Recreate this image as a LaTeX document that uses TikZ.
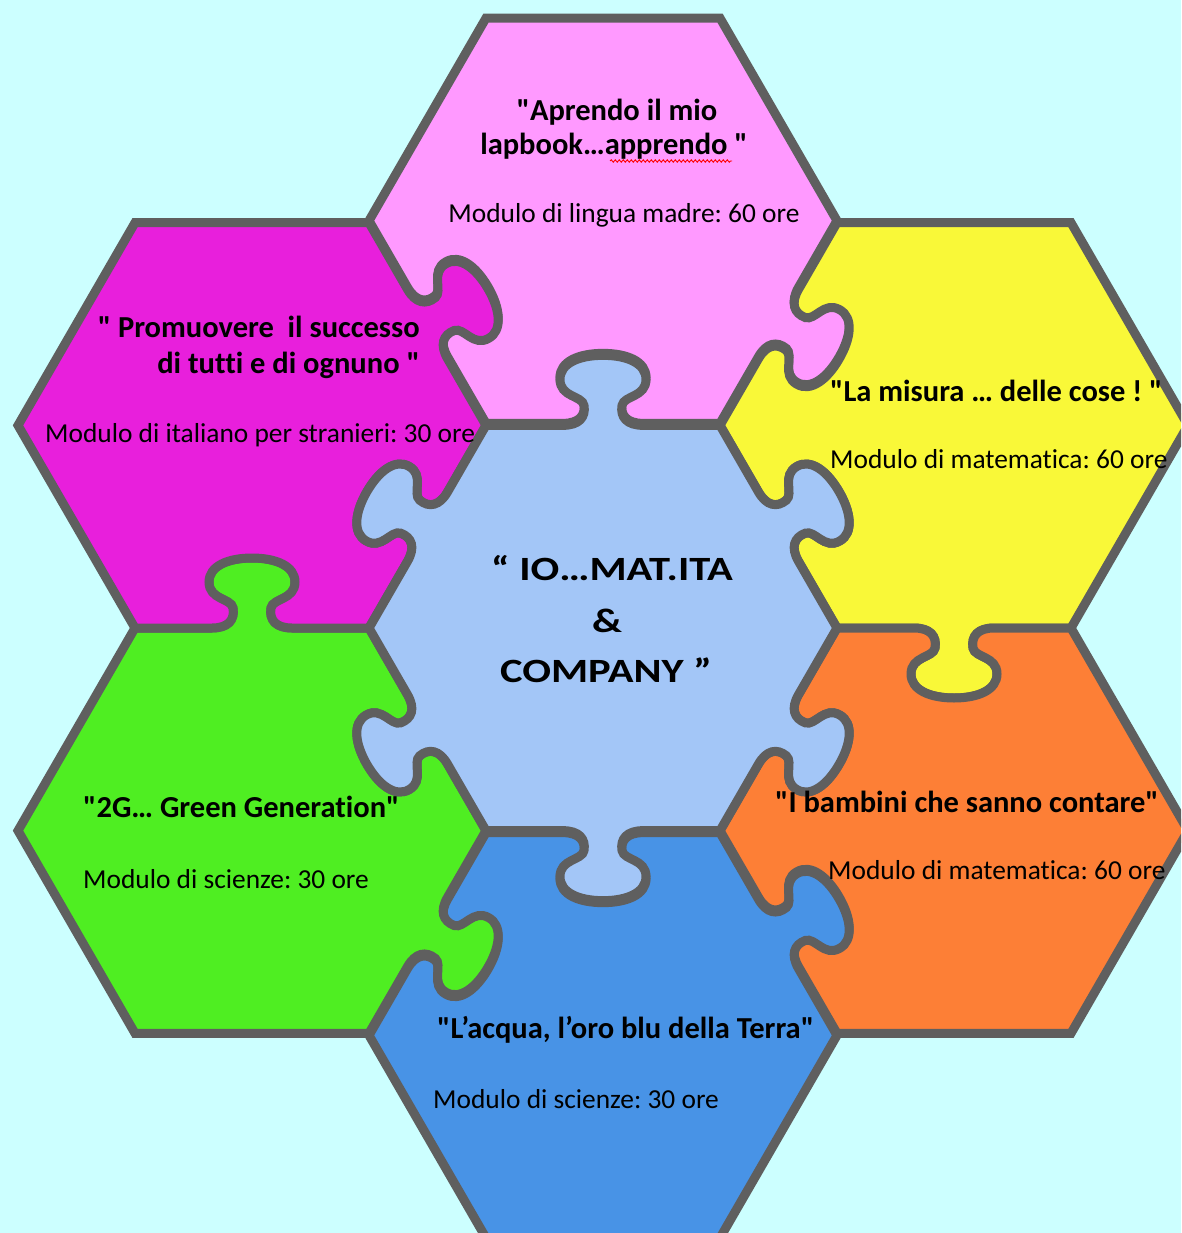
\documentclass[tikz,border=0pt]{standalone}
\usepackage{graphicx}
\usepackage{fontspec}
\setmainfont{Carlito}[Ligatures={TeXOff,NoCommon}]
\frenchspacing
\usetikzlibrary{decorations.pathmorphing}
\definecolor{bgc}{HTML}{CCFFFF}
\definecolor{pinkc}{HTML}{FF99FF}
\definecolor{magc}{HTML}{E81FDC}
\definecolor{yelc}{HTML}{F9F838}
\definecolor{orac}{HTML}{FD7F36}
\definecolor{grnc}{HTML}{4FEE22}
\definecolor{bluc}{HTML}{4893E6}
\definecolor{cenc}{HTML}{A3C6F7}
\definecolor{edgec}{HTML}{5F5F5F}
\newcommand\hexR{234}
\newcommand\nl{\kern0pt }
\newcommand\kpt[2]{%
  \pgfmathsetmacro\kpx{\kmx+(#1)*(\kdx)+(\ksg)*(#2)*(\knx)}%
  \pgfmathsetmacro\kpy{\kmy+(#1)*(\kdy)+(\ksg)*(#2)*(\kny)}%
  \xdef\hp{\hp(\kpx,\kpy)}}
\newcommand\ktx[1]{\xdef\hp{\hp\space#1\space}}
\newcommand\buildhex[3]{%
  \gdef\hp{}%
  \foreach \s [count=\k from 0] in {#3}{%
    \pgfmathsetmacro\kax{#1+\hexR*cos(180+60*\k)}%
    \pgfmathsetmacro\kay{#2+\hexR*sin(180+60*\k)}%
    \pgfmathsetmacro\kbx{#1+\hexR*cos(240+60*\k)}%
    \pgfmathsetmacro\kby{#2+\hexR*sin(240+60*\k)}%
    \ifnum\k=0 \xdef\hp{(\kax,\kay)}\fi
    \pgfmathsetmacro\kdx{(\kbx-\kax)/\hexR}%
    \pgfmathsetmacro\kdy{(\kby-\kay)/\hexR}%
    \pgfmathsetmacro\knx{\kdy}%
    \pgfmathsetmacro\kny{-1*(\kdx)}%
    \pgfmathsetmacro\kmx{(\kax+\kbx)/2}%
    \pgfmathsetmacro\kmy{(\kay+\kby)/2}%
    \edef\ksg{\s}%
    \ifnum\s=0\relax
    \else
      \ktx{--}\kpt{-40}{0}%
      \ktx{.. controls}\kpt{-24}{0}\ktx{and}\kpt{-17}{8}\ktx{..}\kpt{-19}{20}%
      \ktx{.. controls}\kpt{-21}{30}\ktx{and}\kpt{-43}{28}\ktx{..}\kpt{-43}{46}%
      \ktx{.. controls}\kpt{-43}{62}\ktx{and}\kpt{-24}{70}\ktx{..}\kpt{0}{70}%
      \ktx{.. controls}\kpt{24}{70}\ktx{and}\kpt{43}{62}\ktx{..}\kpt{43}{46}%
      \ktx{.. controls}\kpt{43}{28}\ktx{and}\kpt{21}{30}\ktx{..}\kpt{19}{20}%
      \ktx{.. controls}\kpt{17}{8}\ktx{and}\kpt{24}{0}\ktx{..}\kpt{40}{0}%
    \fi
    \ktx{--}\xdef\hp{\hp(\kbx,\kby)}%
  }%
  \ktx{-- cycle}%
}
\newcommand\drawhex[4]{%
  \buildhex{#1}{#2}{#4}%
  \edef\hexcmd{\noexpand\filldraw[hexst, fill=#3] \hp;}%
  \hexcmd}
\newcommand\wide[1]{\scalebox{1.25}[1]{#1}}
\begin{document}
\begin{tikzpicture}[x=1pt, y=-1pt,
  hexst/.style={draw=edgec, line width=9pt, line join=miter},
  ttl/.style={anchor=base, inner sep=0pt, font=\fontsize{30.5}{36}\selectfont\bfseries},
  mod/.style={anchor=base, inner sep=0pt, font=\fontsize{27.4}{33}\selectfont},
  ctext/.style={anchor=base, inner sep=0pt, font=\fontsize{34}{40}\selectfont\bfseries}]
\useasboundingbox (0,0) rectangle (1181,1233);
\clip (0,0) rectangle (1181,1233);
\fill[bgc] (0,0) rectangle (1181,1233);
% hexagons: centre, colour, knob signs for edges UL, top, UR, LR, bottom, LL
\drawhex{603}{220.7}{pinkc}{0,0,0,1,-1,-1}
\drawhex{954}{425.35}{yelc}{-1,0,0,0,1,-1}
\drawhex{954}{830.65}{orac}{-1,-1,0,0,0,-1}
\drawhex{603}{1035.3}{bluc}{-1,-1,1,0,0,0}
\drawhex{252}{830.65}{grnc}{0,1,-1,1,0,0}
\drawhex{252}{425.35}{magc}{0,0,1,-1,-1,0}
\drawhex{603}{628}{cenc}{1,1,1,1,1,1}
% texts
\node[ttl] (p1) at (617,121) {"Aprendo il mio};
\node[ttl] (p2) at (614,155) {lapbook…apprendo "};
\node[mod] (p3) at (624,223) {Modulo di lingua madre: 60 ore};
\draw[red, line width=0.9pt, decorate, decoration={snake, amplitude=1.2pt, segment length=4pt}] (610,161) -- (732,161);
\node[ttl, anchor=base east] (m1) at (420,337) {" Promuovere\ \ il successo};
\node[ttl, anchor=base east] (m2) at (420,373) {di tutt\nl i e di ognuno "};
\node[mod, anchor=base west] (m3) at (45,442) {Modulo di italiano per stranieri: 30 ore};
\node[ttl, anchor=base west] (y1) at (830,401) {"La misura … delle cose ! "};
\node[mod, anchor=base west] (y2) at (830,468) {Modulo di matemat\nl ica: 60 ore};
\node[ttl, anchor=base west] (o1) at (775,812) {"I bambini che sanno contare"};
\node[mod, anchor=base west] (o2) at (828,879) {Modulo di matemat\nl ica: 60 ore};
\node[ttl, anchor=base west] (g1) at (83,817) {"2G… Green Generat\nl ion"};
\node[mod, anchor=base west] (g2) at (83,888) {Modulo di scienze: 30 ore};
\node[ttl, anchor=base west] (b1) at (437,1038) {"L’acqua, l’oro blu della Terra"};
\node[mod, anchor=base west] (b2) at (433,1108) {Modulo di scienze: 30 ore};
\node[ctext] (c1) at (612,580) {\wide{“ IO…MAT.ITA}};
\node[ctext] (c2) at (607,632) {\wide{\&}};
\node[ctext] (c3) at (606,682) {\wide{COMPANY ”}};
\end{tikzpicture}
\end{document}
